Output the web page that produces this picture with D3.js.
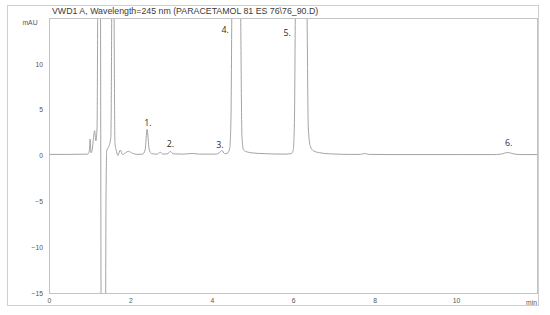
<!DOCTYPE html>
<html>
<head>
<meta charset="utf-8">
<script src="https://cdn.jsdelivr.net/npm/d3@7"></script>
<style>
  body { margin: 0; background: #fff; }
  svg text { font-family: "Liberation Sans", Arial, sans-serif; }
</style>
</head>
<body>
<div id="chart"></div>
<script>
var W = 550, H = 315;
var frame = {left: 7.5, top: 5.5, right: 538.5, bottom: 305.5};
var plot = {left: 49.5, top: 18.5, right: 537.5, bottom: 293.5};

var titleText = "VWD1 A, Wavelength=245 nm (PARACETAMOL 81 ES 76\\76_90.D)";
var yUnit = "mAU", xUnit = "min";

// trace: retention time (min) and signal (mAU)
var traceTime = [0, 0.5, 0.95, 0.99, 1.01, 1.03, 1.06, 1.09, 1.12, 1.15, 1.18, 1.2, 1.235, 1.265,
    1.272, 1.28, 1.33, 1.39, 1.40, 1.42, 1.47, 1.52, 1.54, 1.57, 1.60, 1.62, 1.66, 1.69,
    1.75, 1.81, 1.88, 1.95, 2.05, 2.16, 2.3, 2.36, 2.41, 2.46, 2.52, 2.66, 2.73, 2.8,
    2.92, 2.98, 3.05, 3.3, 3.52, 3.7, 4.1, 4.18, 4.25, 4.31, 4.38, 4.44, 4.47, 4.49,
    4.6, 4.71, 4.74, 4.78, 4.86, 5.0, 5.3, 5.8, 5.95, 6.0, 6.03, 6.05, 6.2, 6.34, 6.37,
    6.42, 6.5, 6.65, 6.9, 7.4, 7.65, 7.75, 7.85, 8.5, 10.0, 10.9, 11.1, 11.26, 11.45,
    11.6, 12];
var traceValue = [0.12, 0.12, 0.15, 0.5, 1.8, 0.3, 0.6, 1.8, 2.7, 1.6, 3, 20, 60, 20,
    0, -20, -60, -20, -5, 0.6, 1.0, 2, 15, 60, 15, 1.4, 0.4, 0.0,
    0.6, 0.1, 0.3, 0.45, 0.25, 0.12, 0.15, 0.6, 2.85, 0.7, 0.2, 0.15, 0.35, 0.15,
    0.2, 0.45, 0.18, 0.15, 0.22, 0.15, 0.15, 0.3, 0.55, 0.2, 0.25, 0.8, 4, 15,
    100, 15, 2, 0.6, 0.4, 0.28, 0.2, 0.15, 0.2, 0.6, 4, 15, 100, 15, 3,
    1.0, 0.5, 0.3, 0.18, 0.12, 0.12, 0.22, 0.12, 0.1, 0.1, 0.1, 0.15, 0.32, 0.15,
    0.1, 0.1];

var peakNames = ["1.", "2.", "3.", "4.", "5.", "6."];
var peakLabelTime = [2.43, 2.98, 4.2, 4.33, 5.85, 11.29];
var peakLabelValue = [3.5, 1.25, 1.1, 13.7, 13.35, 1.36];

var xTicks = [0, 2, 4, 6, 8, 10];
var yTicks = [-15, -10, -5, 0, 5, 10];

var svg = d3.select("#chart").append("svg")
    .attr("width", W).attr("height", H);

var x = d3.scaleLinear().domain([0, 12]).range([plot.left - 0.5, plot.right]);
var y = d3.scaleLinear().domain([-15, 15]).range([plot.bottom - 0.5, plot.top - 0.5]);

// outer frame and plot frame
svg.append("rect")
    .attr("x", frame.left).attr("y", frame.top)
    .attr("width", frame.right - frame.left).attr("height", frame.bottom - frame.top)
    .attr("fill", "none").attr("stroke", "#cfcfcf");
svg.append("rect")
    .attr("x", plot.left).attr("y", plot.top)
    .attr("width", plot.right - plot.left).attr("height", plot.bottom - plot.top)
    .attr("fill", "none").attr("stroke", "#c4c4c4");

svg.append("text")
    .attr("x", 52).attr("y", 13.5)
    .attr("font-size", 8.8).attr("fill", "#3a3a3a")
    .text(titleText);

svg.append("text")
    .attr("x", 30).attr("y", 25)
    .attr("text-anchor", "middle")
    .attr("font-size", 6.8).attr("fill", "#555")
    .text(yUnit);
svg.append("text")
    .attr("x", 537).attr("y", 304.5).attr("text-anchor", "end")
    .attr("font-size", 6.8).attr("fill", "#555")
    .text(xUnit);

var yAxis = svg.append("g")
    .attr("transform", "translate(" + (plot.left - 0.5) + ",0)")
    .call(d3.axisLeft(y).tickValues(yTicks).tickSize(0).tickPadding(6));
var xAxis = svg.append("g")
    .attr("transform", "translate(0," + (plot.bottom - 0.5) + ")")
    .call(d3.axisBottom(x).tickValues(xTicks).tickSize(0).tickPadding(5));
[xAxis, yAxis].forEach(function(a) {
    a.select(".domain").remove();
    a.selectAll("text")
        .attr("font-size", 6.8)
        .attr("fill", "#555")
        .style("font-family", "'Liberation Sans', Arial, sans-serif");
});

svg.append("clipPath").attr("id", "clip")
    .append("rect")
    .attr("x", plot.left).attr("y", plot.top + 0.5)
    .attr("width", plot.right - plot.left).attr("height", plot.bottom - plot.top - 0.5);

var trace = d3.zip(traceTime, traceValue);
var line = d3.line()
    .x(function(d) { return x(d[0]); })
    .y(function(d) { return y(d[1]); })
    .curve(d3.curveMonotoneX);

svg.append("path")
    .datum(trace)
    .attr("clip-path", "url(#clip)")
    .attr("d", line)
    .attr("fill", "none")
    .attr("stroke", "#a3a3a3")
    .attr("stroke-width", 1);

svg.selectAll(".peak")
    .data(peakNames)
    .enter().append("text")
    .attr("class", "peak")
    .attr("x", function(d, i) { return x(peakLabelTime[i]); })
    .attr("y", function(d, i) { return y(peakLabelValue[i]); })
    .attr("dy", "0.35em")
    .attr("text-anchor", "middle")
    .attr("font-size", 8.8)
    .attr("fill", "#2a2a2a")
    .style("font-family", "'Open Sans', sans-serif")
    .text(function(d) { return d; });
</script>
</body>
</html>
